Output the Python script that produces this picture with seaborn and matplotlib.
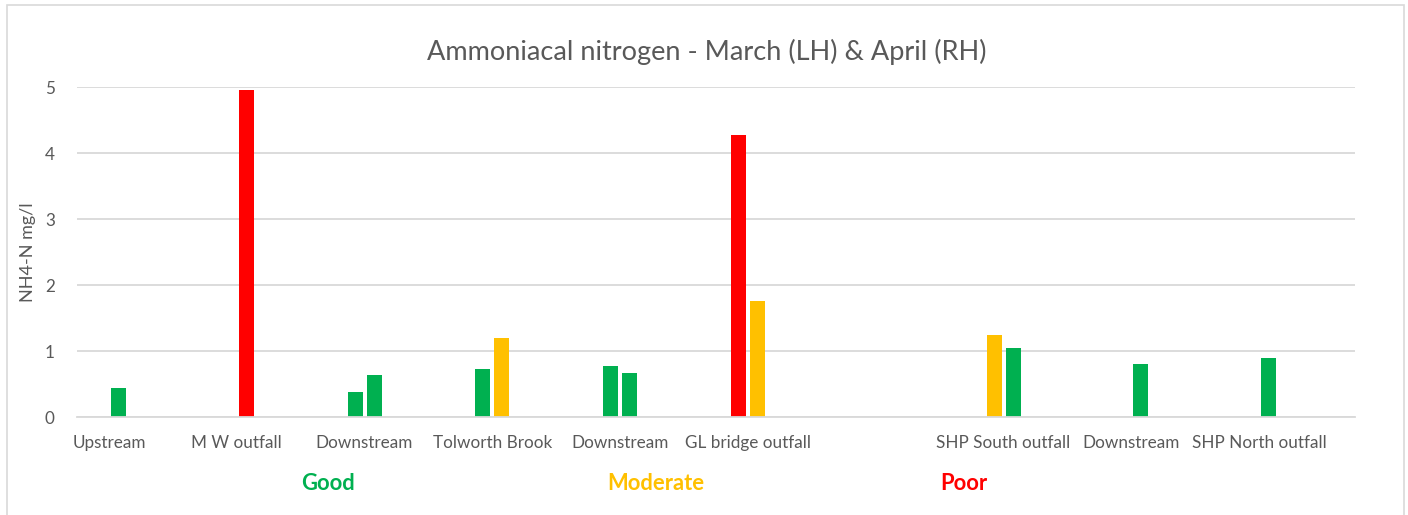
import numpy as np
import pandas as pd
import matplotlib
matplotlib.use("Agg")
import matplotlib.pyplot as plt
import seaborn as sns
from matplotlib.patches import Rectangle

# ---- data ----
site_ids = ["Upstream", "M W outfall", "Downstream A", "Tolworth Brook", "Downstream B",
            "GL bridge outfall", "blank", "SHP South outfall", "Downstream C", "SHP North outfall"]
site_labels = ["Upstream", "M W outfall", "Downstream", "Tolworth Brook", "Downstream",
               "GL bridge outfall", "", "SHP South outfall", "Downstream", "SHP North outfall"]
march = [np.nan, np.nan, 0.38, 0.73, 0.77, 4.28, np.nan, 1.24, np.nan, np.nan]
april = [0.44, 4.95, 0.64, 1.20, 0.67, 1.76, np.nan, 1.05, 0.80, 0.89]
march_status = [None, None, "Good", "Good", "Good", "Poor", None, "Moderate", None, None]
april_status = ["Good", "Poor", "Good", "Moderate", "Good", "Moderate", None, "Good", "Good", "Good"]
months = ["March", "April"]
status_names = ["Good", "Moderate", "Poor"]
status_colors = {"Good": "#00B050", "Moderate": "#FFC000", "Poor": "#FF0000"}
y_ticks = [0, 1, 2, 3, 4, 5]

df = pd.DataFrame({
    "site": site_ids * 2,
    "month": ["March"] * len(site_ids) + ["April"] * len(site_ids),
    "value": march + april,
})

sns.set_theme(style="white")
plt.rcParams["font.family"] = ["Lato", "DejaVu Sans"]
grey = "#595959"

fig = plt.figure(figsize=(14.08, 5.15), dpi=100)
ax = fig.add_axes([77 / 1408, 1 - 417 / 515, (1355 - 77) / 1408, (417 - 87) / 515])

sns.barplot(data=df, x="site", y="value", hue="month", order=site_ids, hue_order=months,
            palette=["#00B050", "#00B050"], width=0.297, gap=0.21, linewidth=0,
            errorbar=None, legend=False, ax=ax)

statuses = [march_status, april_status]
for k, cont in enumerate(ax.containers):
    for bar in cont:
        idx = int(round(bar.get_x() + bar.get_width() / 2))
        st = statuses[k][idx]
        if st is not None:
            bar.set_facecolor(status_colors[st])

ax.set_xlim(-0.25, 9.75)
ax.set_ylim(0, 5)
ax.set_yticks(y_ticks)
ax.set_yticklabels([str(t) for t in y_ticks])
ax.set_xticks(range(len(site_ids)))
ax.set_xticklabels(site_labels)
ax.yaxis.grid(True, color="#D9D9D9", linewidth=1.3)
ax.set_axisbelow(True)
for s in ["left", "right", "top"]:
    ax.spines[s].set_visible(False)
ax.spines["bottom"].set_color("#D9D9D9")
ax.spines["bottom"].set_linewidth(1.3)
ax.tick_params(axis="both", length=0, colors=grey, labelsize=12.3)
ax.tick_params(axis="y", pad=16)
ax.tick_params(axis="x", pad=13)
ax.set_xlabel("")
ax.set_ylabel("NH4-N mg/l", color=grey, fontsize=13, labelpad=6)

fig.text(707 / 1408, 1 - 52 / 515, "Ammoniacal nitrogen - March (LH) & April (RH)",
         ha="center", va="center", color=grey, fontsize=19.5)

for name, xc in zip(status_names, [328, 656, 964]):
    fig.text(xc / 1408, 1 - 483 / 515, name, ha="center", va="center",
             color=status_colors[name], fontsize=15.8, fontweight="bold")

fig.patches.append(Rectangle((7 / 1408, -0.01), (1404 - 7) / 1408, 1.0,
                             transform=fig.transFigure, fill=False,
                             edgecolor="#D9D9D9", linewidth=1.2))

fig.savefig("out.png", dpi=100)
